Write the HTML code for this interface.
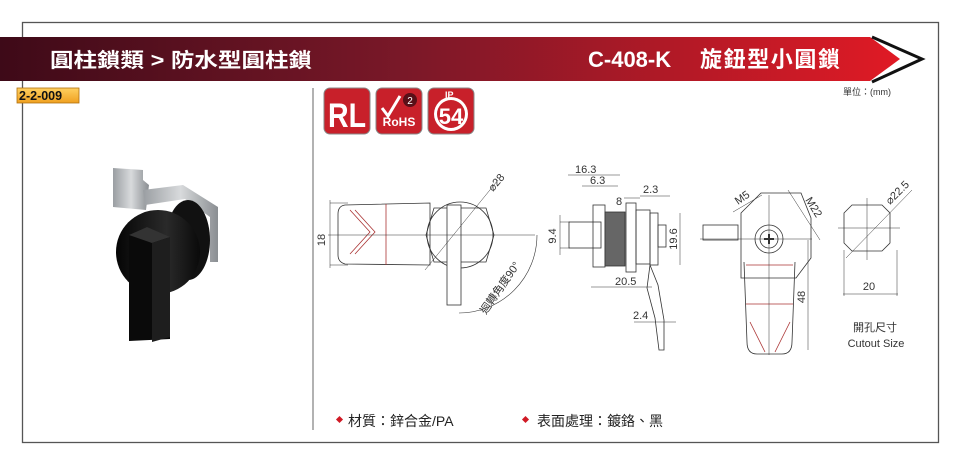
<!DOCTYPE html>
<html><head><meta charset="utf-8"><style>
html,body{margin:0;padding:0;background:#fff;}
svg{display:block;font-family:"Liberation Sans","Noto Sans CJK TC",sans-serif;}
</style></head><body>
<svg width="960" height="468" viewBox="0 0 960 468" xmlns="http://www.w3.org/2000/svg">
<defs>
<linearGradient id="bn" x1="0" x2="1" y1="0" y2="0">
<stop offset="0" stop-color="#3e0a18"/><stop offset="0.45" stop-color="#7a1828"/><stop offset="1" stop-color="#e01a25"/>
</linearGradient>
<linearGradient id="tag" x1="0" x2="0" y1="0" y2="1"><stop offset="0" stop-color="#ffd060"/><stop offset="1" stop-color="#f0a020"/></linearGradient>
<linearGradient id="metal" x1="0" x2="1"><stop offset="0" stop-color="#9a9ea2"/><stop offset="0.5" stop-color="#d8dadc"/><stop offset="1" stop-color="#8a8e92"/></linearGradient>
<linearGradient id="blk" x1="0" x2="1"><stop offset="0" stop-color="#050505"/><stop offset="0.6" stop-color="#2a2a2a"/><stop offset="1" stop-color="#0a0a0a"/></linearGradient>
</defs>
<rect x="22.5" y="22.5" width="916" height="420" fill="none" stroke="#555" stroke-width="1.3"/>
<polygon points="0,37 870,37 900,59 870,81 0,81" fill="url(#bn)"/>
<polyline points="872,37 922,59 872,82" fill="none" stroke="#111" stroke-width="3"/>
<text x="50" y="67" font-size="20" font-weight="bold" fill="#fff" textLength="262" lengthAdjust="spacingAndGlyphs">圓柱鎖類 &gt; 防水型圓柱鎖</text>
<text x="588" y="67" font-size="22" font-weight="bold" fill="#fff">C-408-K</text>
<text x="700" y="67" font-size="22" font-weight="bold" fill="#fff" textLength="140">旋鈕型小圓鎖</text>
<text x="843" y="95" font-size="9" fill="#333">單位：(mm)</text>
<rect x="17" y="88" width="62" height="15" fill="url(#tag)" stroke="#b07010" stroke-width="0.8"/>
<text x="19" y="100" font-size="12.5" font-weight="bold" fill="#111">2-2-009</text>
<line x1="313" y1="88" x2="313" y2="430" stroke="#999" stroke-width="1.5"/>
<rect x="324" y="88" width="46" height="46" rx="6" fill="#c8202a" stroke="#888" stroke-width="1"/>
<text x="347" y="127" font-size="34" font-weight="bold" fill="#fff" text-anchor="middle" textLength="38" lengthAdjust="spacingAndGlyphs">RL</text>
<rect x="376" y="88" width="46" height="46" rx="6" fill="#c8202a" stroke="#888" stroke-width="1"/>
<path d="M382 108 l6 8 l12 -20" fill="none" stroke="#fff" stroke-width="3"/>
<circle cx="410" cy="100" r="7" fill="#5a1018"/><text x="410" y="104" font-size="10" fill="#fff" text-anchor="middle">2</text>
<text x="399" y="126" font-size="12" font-weight="bold" fill="#fff" text-anchor="middle">RoHS</text>
<rect x="428" y="88" width="46" height="46" rx="6" fill="#c8202a" stroke="#888" stroke-width="1"/>
<circle cx="451" cy="114" r="17" fill="#fff"/><circle cx="451" cy="114" r="14" fill="#c8202a"/>
<text x="451" y="124" font-size="22" font-weight="bold" fill="#fff" text-anchor="middle">54</text>
<text x="445" y="98" font-size="9" font-weight="bold" fill="#fff">IP</text>
<!-- product photo -->
<path d="M113 168 l30 2 l0 10 l6 5 l-3 25 l-33 -3z" fill="url(#metal)"/>
<path d="M143 190 l40 -5 l35 22 l0 55 l-8 0 l0 -45 l-25 -18 l-40 6z" fill="url(#metal)"/>
<ellipse cx="188" cy="240" rx="22" ry="40" fill="#111"/>
<ellipse cx="158" cy="252" rx="42" ry="42" fill="url(#blk)"/>
<path d="M129 235 l18 -8 l23 12 l0 100 l-41 2z" fill="#0a0a0a"/>
<path d="M129 235 l18 -8 l23 10 l-18 6z" fill="#333"/>
<path d="M152 243 l18 -6 l0 100 l-18 5z" fill="#1e1e1e"/>
<!-- drawing 1 -->
<g stroke="#333" stroke-width="0.8" fill="none">
<path d="M345 205 L430 203 L430 265 L345 264 Q338 262 338 255 L338 214 Q338 206 345 205z"/>
<line x1="386" y1="204" x2="386" y2="265" stroke="#a33"/>
<path d="M350 210 l20 22 l-20 22" stroke="#a33"/>
<path d="M355 210 l20 22 l-20 22" stroke="#a33"/>
<circle cx="460" cy="235" r="33"/>
<path d="M434 208 l52 0 l8 27 l-8 27 l-52 0 l-8 -27z"/>
<rect x="447" y="205" width="14" height="100" fill="#fff"/>
<line x1="328" y1="235" x2="535" y2="235" stroke-width="0.5"/>
<line x1="330" y1="203" x2="348" y2="203" stroke-width="0.5"/>
<line x1="330" y1="265" x2="348" y2="265" stroke-width="0.5"/>
<line x1="330" y1="200" x2="330" y2="268" stroke-width="0.5"/>
<line x1="425" y1="270" x2="498" y2="180" stroke-width="0.5"/>
<path d="M537 235 A78 78 0 0 1 459 313" stroke-width="0.6"/>
</g>
<text x="325" y="240" font-size="11" fill="#333" transform="rotate(-90 325 240)" text-anchor="middle">18</text>
<text x="493" y="192" font-size="11" fill="#333" transform="rotate(-50 493 192)">⌀28</text>
<text x="503" y="290" font-size="11" fill="#333" transform="rotate(-55 503 290)" text-anchor="middle">迴轉角度90°</text>
<!-- drawing 2 -->
<g stroke="#333" stroke-width="0.8" fill="none">
<rect x="569" y="222" width="32" height="26"/>
<rect x="593" y="205" width="12" height="62"/>
<rect x="605" y="212" width="20" height="54" fill="#666"/>
<rect x="626" y="203" width="10" height="69"/>
<rect x="636" y="210" width="14" height="54"/>
<rect x="650" y="213" width="8" height="52"/>
<rect x="658" y="225" width="8" height="22"/>
<path d="M650 265 l8 20 l6 35 l0 30 l-5 0 l-4 -32 l-8 -30z"/>
<line x1="568" y1="175" x2="620" y2="175" stroke-width="0.5"/>
<line x1="582" y1="186" x2="618" y2="186" stroke-width="0.5"/>
<line x1="624" y1="198" x2="640" y2="198" stroke-width="0.5"/>
<line x1="640" y1="196" x2="670" y2="196" stroke-width="0.5"/>
<line x1="591" y1="287" x2="652" y2="287" stroke-width="0.5"/>
<line x1="634" y1="322" x2="676" y2="322" stroke-width="0.5"/>
<line x1="560" y1="222" x2="570" y2="222" stroke-width="0.5"/>
<line x1="560" y1="248" x2="570" y2="248" stroke-width="0.5"/>
<line x1="560" y1="215" x2="560" y2="255" stroke-width="0.5"/>
<line x1="680" y1="213" x2="680" y2="265" stroke-width="0.5"/>
</g>
<g font-size="11" fill="#333">
<text x="575" y="173">16.3</text><text x="590" y="184">6.3</text><text x="616" y="205">8</text>
<text x="643" y="193">2.3</text><text x="615" y="285">20.5</text><text x="633" y="319">2.4</text>
<text x="556" y="236" transform="rotate(-90 556 236)" text-anchor="middle">9.4</text>
<text x="677" y="239" transform="rotate(-90 677 239)" text-anchor="middle">19.6</text>
</g>
<!-- drawing 3 -->
<g stroke="#333" stroke-width="0.8" fill="none">
<rect x="703" y="225" width="35" height="15"/>
<path d="M741 213 l20 -20 l40 0 l10 25 l0 40 l-15 20 l-55 0 l0 -65z"/>
<circle cx="769" cy="239" r="14"/><circle cx="769" cy="239" r="9"/>
<path d="M764 239 h10 M769 234 v10" stroke-width="2"/>
<path d="M744 262 l3 80 q0 12 10 12 l25 0 q10 0 10 -12 l3 -80" />
<line x1="746" y1="265" x2="793" y2="265" stroke="#a33"/>
<line x1="746" y1="304" x2="793" y2="304" stroke="#a33"/>
<path d="M750 322 l15 30 M790 322 l-15 30" stroke="#a33"/>
<line x1="769" y1="195" x2="769" y2="355" stroke-width="0.5"/>
<line x1="700" y1="239" x2="812" y2="239" stroke-width="0.5"/>
<line x1="808" y1="240" x2="808" y2="350" stroke-width="0.5"/>
<line x1="733" y1="212" x2="762" y2="195" stroke-width="0.5"/>
<line x1="788" y1="190" x2="820" y2="240" stroke-width="0.5"/>
<path d="M852 205 l30 0 l8 8 l0 30 l-8 8 l-30 0 l-8 -8 l0 -30z"/>
<line x1="838" y1="228" x2="900" y2="228" stroke-width="0.5"/>
<line x1="867" y1="198" x2="867" y2="260" stroke-width="0.5"/>
<line x1="846" y1="258" x2="912" y2="190" stroke-width="0.5"/>
<line x1="843" y1="294" x2="898" y2="294" stroke-width="0.5"/>
<line x1="844" y1="250" x2="844" y2="296" stroke-width="0.5"/>
<line x1="897" y1="250" x2="897" y2="296" stroke-width="0.5"/>
</g>
<g font-size="11" fill="#333">
<text x="738" y="205" transform="rotate(-35 738 205)">M5</text>
<text x="805" y="200" transform="rotate(58 805 200)">M22</text>
<text x="805" y="297" transform="rotate(-90 805 297)" text-anchor="middle">48</text>
<text x="890" y="205" transform="rotate(-45 890 205)">⌀22.5</text>
<text x="869" y="290" text-anchor="middle">20</text>
<text x="875" y="331" text-anchor="middle">開孔尺寸</text>
<text x="876" y="347" text-anchor="middle">Cutout Size</text>
</g>
<rect x="337" y="417" width="5" height="5" fill="#d01a25" transform="rotate(45 339.5 419.5)"/>
<text x="348" y="426" font-size="14" fill="#222">材質：鋅合金/PA</text>
<rect x="523" y="417" width="5" height="5" fill="#d01a25" transform="rotate(45 525.5 419.5)"/>
<text x="537" y="426" font-size="14" fill="#222">表面處理：鍍鉻、黑</text>
</svg>
</body></html>
